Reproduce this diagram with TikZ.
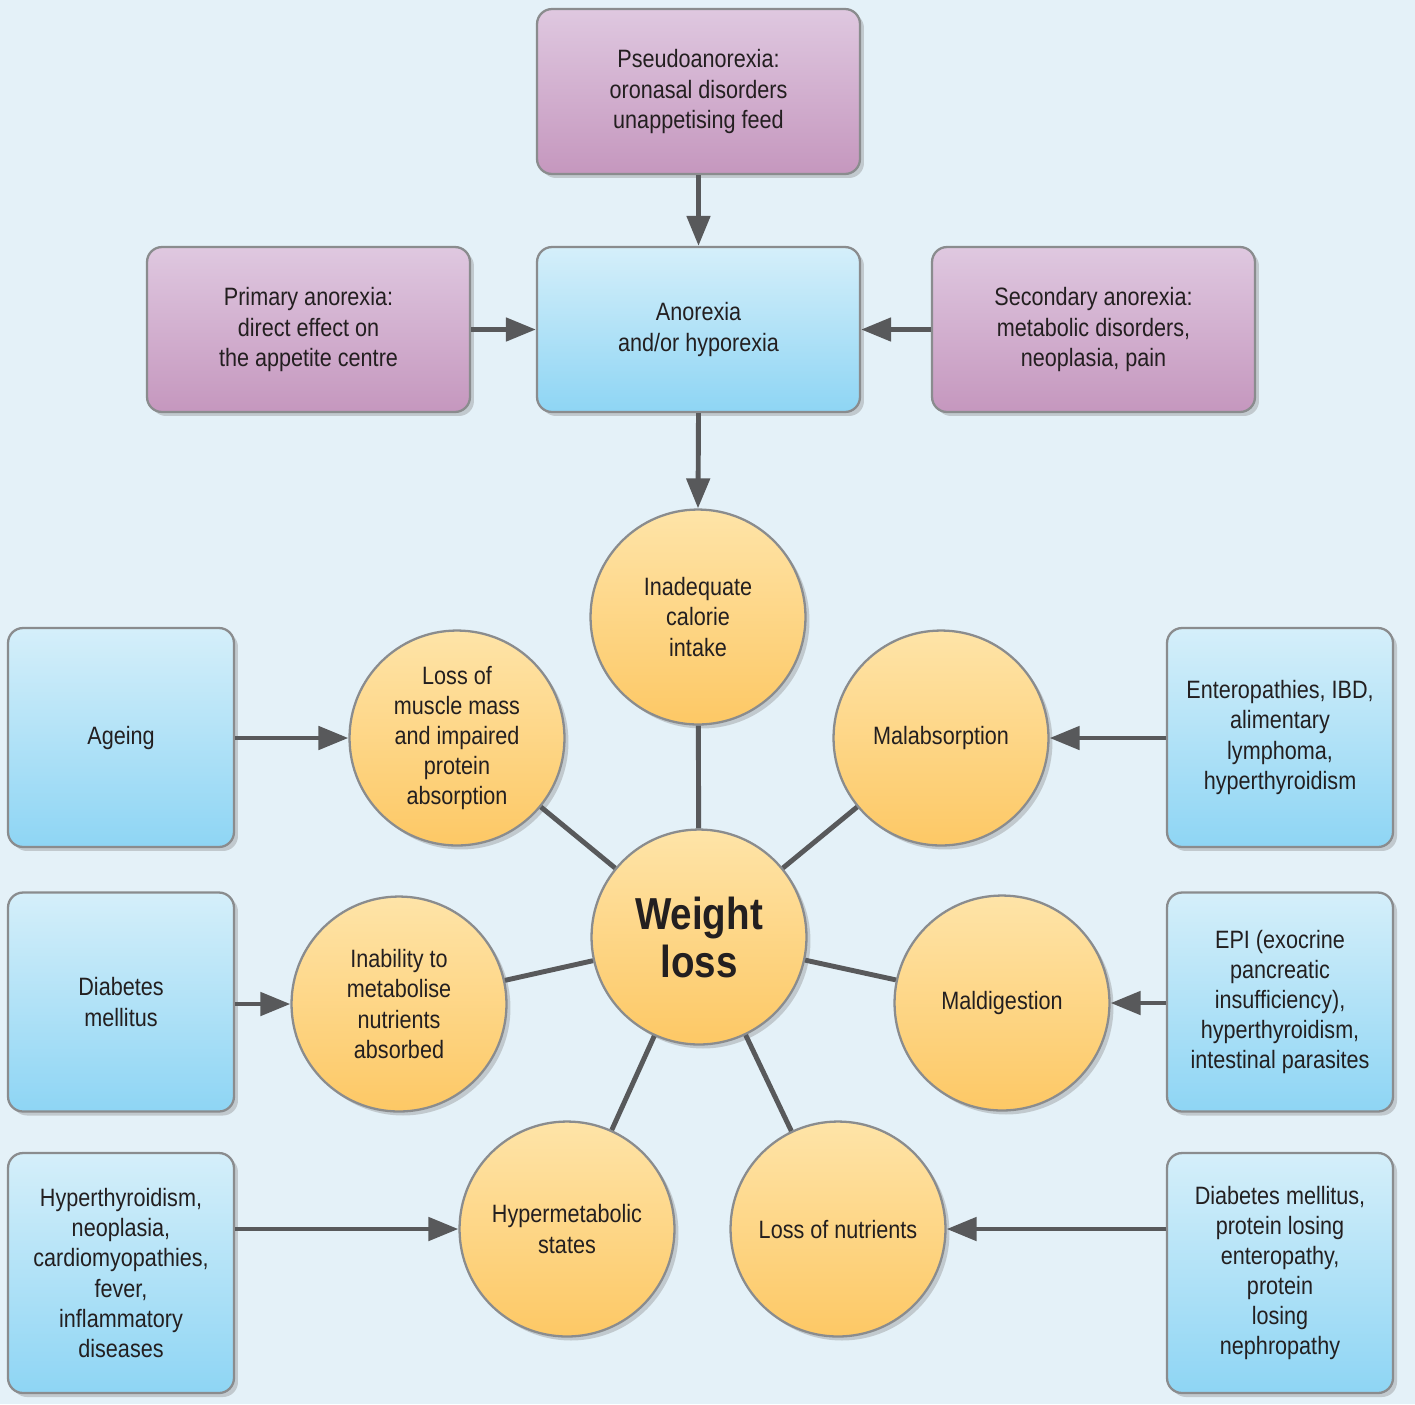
\documentclass[tikz,border=0pt]{standalone}
\usepackage{fontspec}
\setmainfont{Liberation Sans}[FakeStretch=0.86]
\usetikzlibrary{arrows.meta,shadows,positioning}

\definecolor{bgblue}{HTML}{E4F1F8}
\definecolor{rimgray}{HTML}{8A8C8E}
\definecolor{inkgray}{HTML}{231F20}
\definecolor{arrowgray}{HTML}{58595B}
\definecolor{lilactop}{HTML}{DFC8E0}
\definecolor{lilacbot}{HTML}{C597BE}
\definecolor{skytop}{HTML}{D5EFFA}
\definecolor{skybot}{HTML}{8ED5F4}
\definecolor{suntop}{HTML}{FEE4A8}
\definecolor{sunbot}{HTML}{FDC865}

\tikzset{
  basebox/.style={rectangle, rounded corners=0.3cm, draw=rimgray, line width=1.3pt,
    align=center, text=inkgray, font=\fontsize{14.3}{17.1}\selectfont,
    drop shadow={shadow xshift=0.08cm, shadow yshift=-0.08cm, opacity=0.35}},
  lilacbox/.style={basebox, top color=lilactop, bottom color=lilacbot,
    minimum width=6.46cm, minimum height=3.3cm},
  skybox/.style={basebox, top color=skytop, bottom color=skybot,
    minimum width=6.46cm, minimum height=3.3cm},
  sidebox/.style={basebox, top color=skytop, bottom color=skybot,
    minimum width=4.52cm, minimum height=4.38cm},
  tallbox/.style={sidebox, minimum height=4.8cm},
  cause/.style={circle, draw=rimgray, line width=1.3pt, top color=suntop, bottom color=sunbot,
    align=center, text=inkgray, font=\fontsize{14.3}{17.1}\selectfont,
    minimum size=4.3cm, inner sep=0pt,
    drop shadow={shadow xshift=0.08cm, shadow yshift=-0.08cm, opacity=0.35}},
  hub/.style={cause, font=\bfseries\fontsize{25.5}{27.3}\selectfont},
  arr/.style={draw=arrowgray, line width=2.8pt, -{Triangle[length=0.6cm,width=0.46cm]}},
  spoke/.style={draw=arrowgray, line width=2.8pt}
}

\begin{document}
\begin{tikzpicture}[x=0.02cm,y=-0.02cm]

\fill[bgblue] (0,0) rectangle (1415,1404);

% anorexia part
\node [lilacbox] (pseudo) at (698.5,91.5) {Pseudoanorexia:\\oronasal disorders\\unappetising feed};
\node [skybox] (anorexia) at (698.5,329.5) {Anorexia\\and/or hyporexia};
\node [lilacbox] (primary) at (308.5,329.5) {Primary anorexia:\\direct effect on\\the appetite centre};
\node [lilacbox] (secondary) at (1093.5,329.5) {Secondary anorexia:\\metabolic disorders,\\neoplasia, pain};

% circles
\node [hub] (weight) at (699,937) {Weight\\loss};
\node [cause] (intake) at (698,617) {Inadequate\\calorie\\intake};
\node [cause] (muscle) at (457,738) {Loss of\\muscle mass\\and impaired\\protein\\absorption};
\node [cause] (malabs) at (941,738) {Malabsorption};
\node [cause] (metab) at (399,1004) {Inability to\\metabolise\\nutrients\\absorbed};
\node [cause] (maldig) at (1002,1003) {Maldigestion};
\node [cause] (hypermet) at (567,1229) {Hypermetabolic\\states};
\node [cause] (nutrients) at (838,1229) {Loss of nutrients};

% side boxes
\node [sidebox] (ageing) at (121,737.5) {Ageing};
\node [sidebox] (diabetes) at (121,1002) {Diabetes\\mellitus};
\node [tallbox] (hyper) at (121,1273) {Hyperthyroidism,\\neoplasia,\\cardiomyopathies,\\fever,\\inflammatory\\diseases};
\node [sidebox] (entero) at (1280,737.5) {Enteropathies, IBD,\\alimentary\\lymphoma,\\hyperthyroidism};
\node [sidebox] (epi) at (1280,1002) {EPI (exocrine\\pancreatic\\insufficiency),\\hyperthyroidism,\\intestinal parasites};
\node [tallbox] (dmprot) at (1280,1273) {Diabetes mellitus,\\protein losing\\enteropathy,\\protein\\losing\\nephropathy};

\draw[arr] (pseudo.south) -- (anorexia.north);
\draw[arr] (primary.east) -- (anorexia.west);
\draw[arr] (secondary.west) -- (anorexia.east);
\draw[arr] (anorexia.south) -- (intake.north);

\foreach \c in {intake,muscle,malabs,metab,maldig,hypermet,nutrients}
  \draw[spoke] (weight) -- (\c);

\draw[arr] (ageing.east |- muscle.west) -- (muscle.west);
\draw[arr] (diabetes.east |- metab.west) -- (metab.west);
\draw[arr] (hyper.east |- hypermet.west) -- (hypermet.west);
\draw[arr] (entero.west |- malabs.east) -- (malabs.east);
\draw[arr] (epi.west |- maldig.east) -- (maldig.east);
\draw[arr] (dmprot.west |- nutrients.east) -- (nutrients.east);

\end{tikzpicture}
\end{document}
